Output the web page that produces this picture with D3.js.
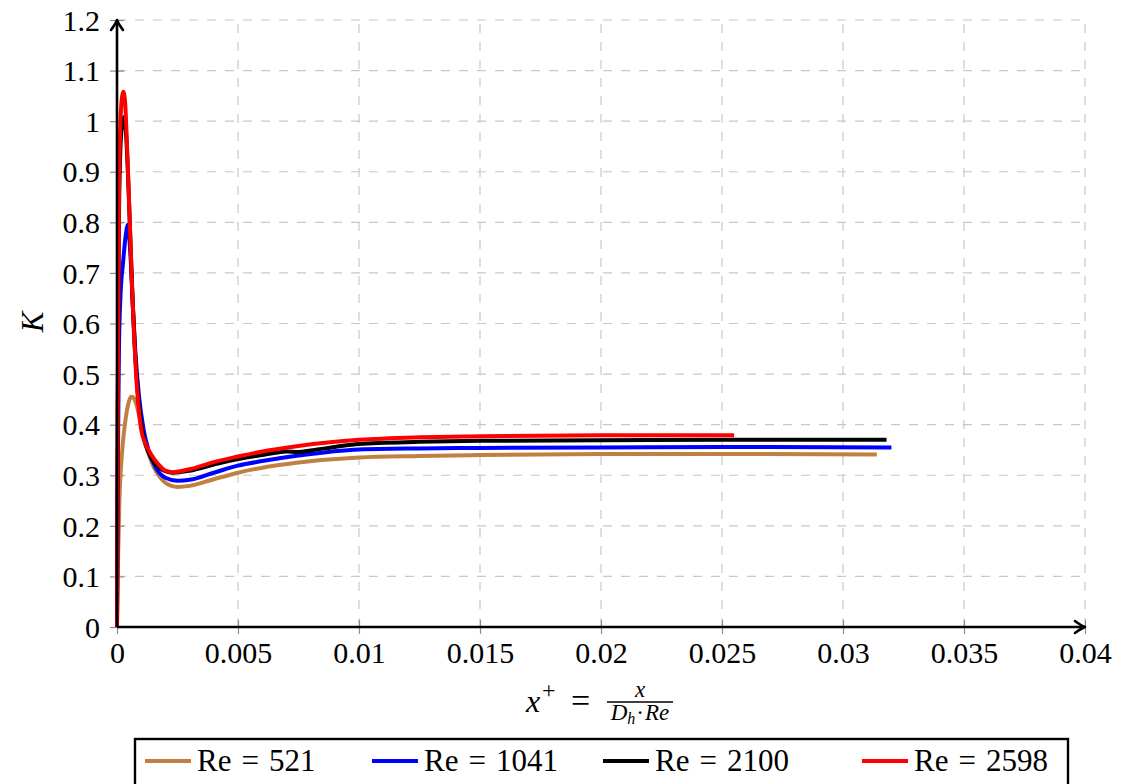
<!DOCTYPE html>
<html>
<head>
<meta charset="utf-8">
<script src="https://cdn.jsdelivr.net/npm/d3@7/dist/d3.min.js"></script>
<style>
  html, body { margin: 0; padding: 0; background: #fff; }
  svg { display: block; }
  text { font-family: "Liberation Serif", "Times New Roman", serif; fill: #000; }
</style>
</head>
<body>
<svg id="chart" width="1123" height="784"></svg>
<script>
// Loss coefficient K along the developing-flow coordinate x+ for four Reynolds numbers
const seriesRe = ["521", "1041", "2100", "2598"];
const seriesColors = ["#BF8040", "#0000FF", "#000000", "#FF0000"];

const xRe521 = [0, 0.00005, 0.0001, 0.0002, 0.0003, 0.0004, 0.0005, 0.0006, 0.0007, 0.0008, 0.001, 0.0012, 0.0015, 0.0018, 0.002, 0.0025, 0.003, 0.004, 0.005, 0.006, 0.0075, 0.01, 0.0125, 0.015, 0.02, 0.025, 0.0314];
const kRe521 = [0, 0.15, 0.25, 0.34, 0.39, 0.425, 0.447, 0.455, 0.452, 0.44, 0.40, 0.36, 0.318, 0.295, 0.285, 0.277, 0.279, 0.292, 0.305, 0.315, 0.325, 0.335, 0.338, 0.340, 0.342, 0.342, 0.341];

const xRe1041 = [0, 0.00003, 0.00008, 0.00015, 0.00025, 0.00035, 0.00045, 0.00055, 0.00065, 0.00075, 0.0009, 0.0011, 0.0013, 0.0016, 0.002, 0.0025, 0.003, 0.004, 0.005, 0.006, 0.0075, 0.01, 0.0125, 0.015, 0.02, 0.025, 0.032];
const kRe1041 = [0, 0.30, 0.55, 0.66, 0.72, 0.77, 0.795, 0.74, 0.64, 0.55, 0.46, 0.39, 0.35, 0.315, 0.295, 0.289, 0.291, 0.305, 0.319, 0.328, 0.339, 0.351, 0.353, 0.354, 0.355, 0.356, 0.355];

const xRe2100 = [0, 0.00003, 0.00008, 0.00013, 0.0002, 0.00029, 0.00036, 0.00045, 0.00055, 0.00065, 0.00075, 0.00085, 0.00095, 0.0011, 0.0013, 0.0015, 0.0018, 0.002, 0.0023, 0.003, 0.004, 0.005, 0.006, 0.0065, 0.007, 0.0075, 0.008, 0.009, 0.01, 0.0125, 0.015, 0.02, 0.025, 0.0318];
const kRe2100 = [0, 0.40, 0.80, 0.93, 0.99, 1.008, 0.985, 0.90, 0.77, 0.64, 0.54, 0.47, 0.42, 0.375, 0.345, 0.328, 0.313, 0.308, 0.305, 0.309, 0.321, 0.332, 0.340, 0.344, 0.347, 0.346, 0.349, 0.356, 0.362, 0.366, 0.368, 0.369, 0.370, 0.370];

const xRe2598 = [0, 0.00003, 0.00008, 0.00013, 0.0002, 0.00026, 0.00033, 0.0004, 0.0005, 0.0006, 0.0007, 0.0008, 0.0009, 0.001, 0.0012, 0.0014, 0.0017, 0.002, 0.0023, 0.003, 0.004, 0.005, 0.006, 0.0075, 0.01, 0.0125, 0.015, 0.02, 0.0255];
const kRe2598 = [0, 0.45, 0.85, 0.98, 1.045, 1.058, 1.04, 0.97, 0.84, 0.70, 0.58, 0.49, 0.43, 0.39, 0.36, 0.342, 0.322, 0.309, 0.306, 0.312, 0.326, 0.337, 0.347, 0.358, 0.370, 0.375, 0.377, 0.379, 0.379];

const xTicks = [0, 0.005, 0.01, 0.015, 0.02, 0.025, 0.03, 0.035, 0.04];
const xTickLabels = ["0", "0.005", "0.01", "0.015", "0.02", "0.025", "0.03", "0.035", "0.04"];
const yTicks = [0, 0.1, 0.2, 0.3, 0.4, 0.5, 0.6, 0.7, 0.8, 0.9, 1, 1.1, 1.2];
const yTickLabels = ["0", "0.1", "0.2", "0.3", "0.4", "0.5", "0.6", "0.7", "0.8", "0.9", "1", "1.1", "1.2"];

const seriesX = [xRe521, xRe1041, xRe2100, xRe2598];
const seriesK = [kRe521, kRe1041, kRe2100, kRe2598];

const svg = d3.select("#chart");
const plot = { left: 117, right: 1085, top: 20, bottom: 627 };

const x = d3.scaleLinear().domain([0, 0.04]).range([plot.left, plot.right]);
const y = d3.scaleLinear().domain([0, 1.2]).range([plot.bottom, plot.top]);

const tickFont = 30;

// dashed major grid
const grid = svg.append("g").attr("stroke", "#c8c8c8").attr("stroke-width", 1.2).attr("stroke-dasharray", "9,9");
grid.selectAll("line.gx").data(xTicks.slice(1)).join("line")
  .attr("x1", d => x(d)).attr("x2", d => x(d))
  .attr("y1", plot.bottom).attr("y2", plot.top);
grid.selectAll("line.gy").data(yTicks.slice(1)).join("line")
  .attr("y1", d => y(d)).attr("y2", d => y(d))
  .attr("x1", plot.left).attr("x2", plot.right);

// axes built with d3-axis, then restyled
const xAxis = svg.append("g").attr("transform", `translate(0,${plot.bottom})`)
  .call(d3.axisBottom(x).tickValues(xTicks).tickFormat((d, i) => xTickLabels[i]).tickSize(7).tickSizeOuter(0));
const yAxis = svg.append("g").attr("transform", `translate(${plot.left},0)`)
  .call(d3.axisLeft(y).tickValues(yTicks).tickFormat((d, i) => yTickLabels[i]).tickSize(7).tickSizeOuter(0));

[xAxis, yAxis].forEach(g => {
  g.select(".domain").remove();
  g.selectAll(".tick line").attr("stroke", "#8c8c8c").attr("stroke-width", 1.2);
  g.selectAll(".tick text").attr("font-family", '"Liberation Serif", serif').attr("font-size", tickFont).attr("fill", "#000");
});
xAxis.selectAll(".tick line").attr("y1", -7).attr("y2", 7);
xAxis.selectAll(".tick text").attr("y", 0).attr("dy", null).attr("transform", "translate(0,36)");
yAxis.selectAll(".tick line").attr("x1", -7).attr("x2", 7);
yAxis.selectAll(".tick text").attr("x", -17).attr("dy", "0.34em");

// data curves
const line = d3.line().x(d => x(d[0])).y(d => y(d[1])).curve(d3.curveMonotoneX);
const curves = svg.append("g").attr("fill", "none").attr("stroke-width", 4).attr("stroke-linejoin", "round");
seriesX.forEach((xs, s) => {
  const pts = xs.map((v, i) => [v, seriesK[s][i]]);
  curves.append("path").datum(pts).attr("d", line).attr("stroke", seriesColors[s]);
});

// axis lines with arrow heads
const axisG = svg.append("g").attr("stroke", "#000").attr("stroke-width", 2.6).attr("fill", "none");
axisG.append("line").attr("x1", plot.left).attr("x2", plot.right - 1).attr("y1", plot.bottom).attr("y2", plot.bottom);
axisG.append("line").attr("x1", plot.left).attr("x2", plot.left).attr("y1", plot.bottom).attr("y2", plot.top + 1);
axisG.append("path").attr("stroke-linecap", "round").attr("stroke-linejoin", "round")
  .attr("d", `M${plot.right - 10},${plot.bottom - 6} Q${plot.right - 4},${plot.bottom - 1.5} ${plot.right},${plot.bottom} Q${plot.right - 4},${plot.bottom + 1.5} ${plot.right - 10},${plot.bottom + 6}`);
axisG.append("path").attr("stroke-linecap", "round").attr("stroke-linejoin", "round")
  .attr("d", `M${plot.left - 6},${plot.top + 10} Q${plot.left - 1.5},${plot.top + 4} ${plot.left},${plot.top} Q${plot.left + 1.5},${plot.top + 4} ${plot.left + 6},${plot.top + 10}`);

// y label
svg.append("text").attr("transform", "translate(43,322) rotate(-90)")
  .attr("text-anchor", "middle").attr("font-size", 31).attr("font-style", "italic").text("K");

// x label: x+ = x / (D_h · Re)
const xl = svg.append("g");
xl.append("text").attr("x", 526).attr("y", 712).attr("font-size", 32).attr("font-style", "italic").text("x");
xl.append("text").attr("x", 542).attr("y", 698).attr("font-size", 24).text("+");
xl.append("text").attr("x", 571).attr("y", 712).attr("font-size", 34).text("=");
xl.append("line").attr("x1", 607).attr("x2", 673).attr("y1", 702).attr("y2", 702).attr("stroke", "#000").attr("stroke-width", 1.3);
xl.append("text").attr("x", 640).attr("y", 697).attr("text-anchor", "middle").attr("font-size", 23).attr("font-style", "italic").text("x");
const den = xl.append("text").attr("x", 640).attr("y", 720).attr("text-anchor", "middle").attr("font-size", 23);
den.append("tspan").attr("font-style", "italic").text("D");
den.append("tspan").attr("font-style", "italic").attr("font-size", 16).attr("dy", 4).text("h");
den.append("tspan").attr("dy", -4).attr("dx", 1).text("·");
den.append("tspan").attr("font-style", "italic").attr("dx", 1).text("Re");

// legend
const legend = svg.append("g");
legend.append("rect").attr("x", 135).attr("y", 739).attr("width", 933).attr("height", 60)
  .attr("fill", "#fff").attr("stroke", "#000").attr("stroke-width", 2.4);
const legendLineX = [145, 372, 603, 862];
seriesRe.forEach((re, i) => {
  legend.append("line").attr("x1", legendLineX[i]).attr("x2", legendLineX[i] + 46)
    .attr("y1", 761).attr("y2", 761).attr("stroke", seriesColors[i]).attr("stroke-width", 4);
  const t = legend.append("text").attr("x", legendLineX[i] + 52).attr("y", 771).attr("font-size", 31);
  t.append("tspan").text("Re");
  t.append("tspan").attr("dx", 10).text("=");
  t.append("tspan").attr("dx", 10).text(re);
});
</script>
</body>
</html>
